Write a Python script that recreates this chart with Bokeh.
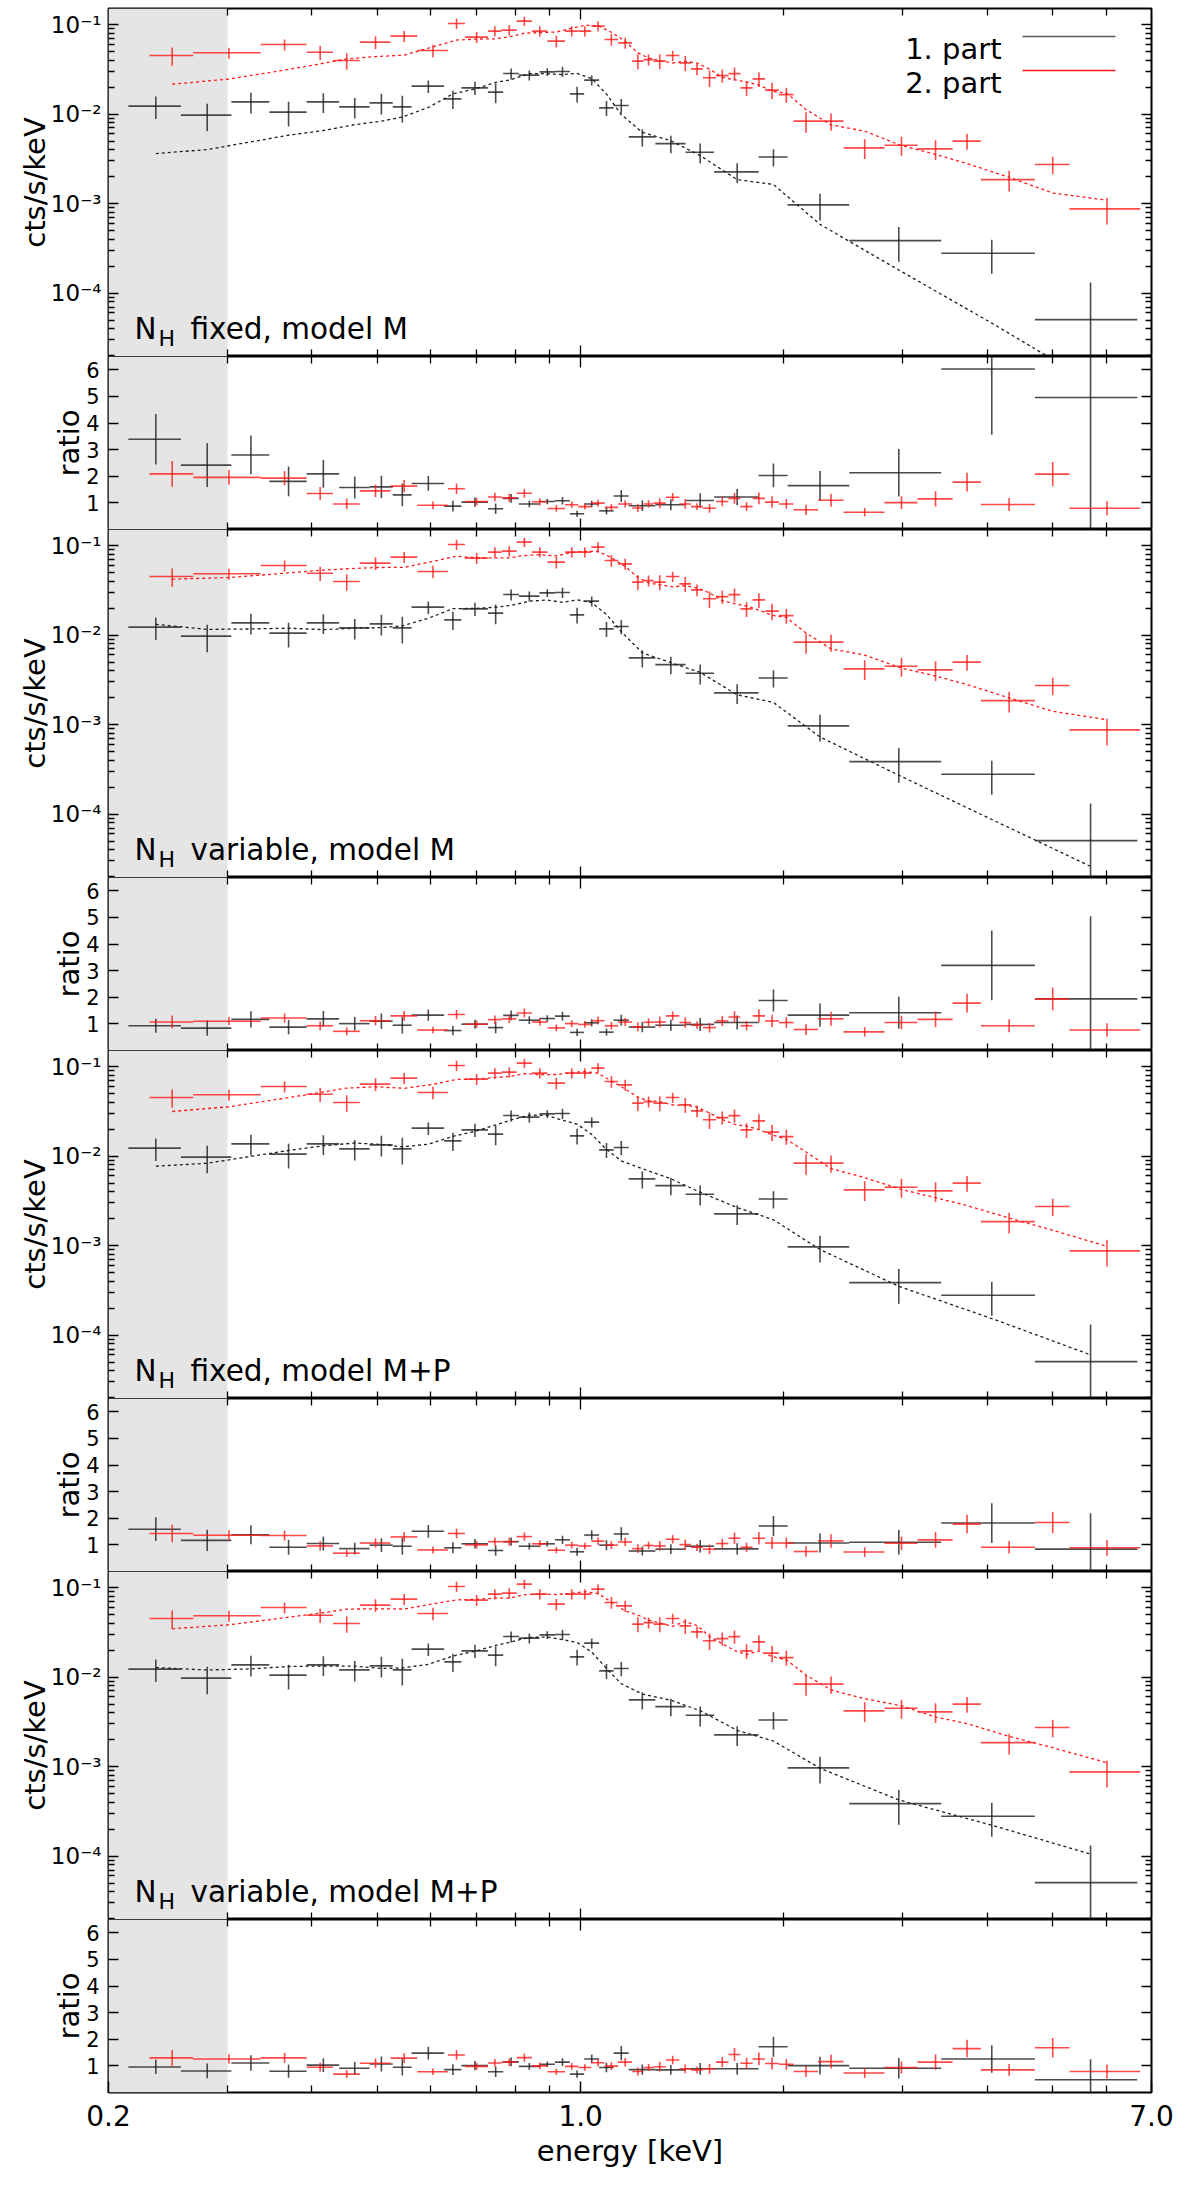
import numpy as np

from bokeh.embed import file_html
from bokeh.layouts import column
from bokeh.models import (
    BoxAnnotation,
    ColumnDataSource,
    CustomJSTickFormatter,
    FixedTicker,
    Label,
    LinearAxis,
    Range1d,
)
from bokeh.plotting import figure
from bokeh.resources import INLINE

# ---- spectra (same data in all four spectral panels) ----
# bin edges in keV, flux in cts/s/keV, relative 1-sigma error
black_edges = [0.214, 0.256, 0.304, 0.346, 0.393, 0.439, 0.487, 0.527, 0.562, 0.628,
               0.666, 0.729, 0.768, 0.810, 0.869, 0.916, 0.964, 1.012, 1.065, 1.119,
               1.178, 1.290, 1.430, 1.576, 1.834, 2.025, 2.498, 3.418, 4.704, 6.670]
black_flux = [0.01226, 0.00972, 0.01369, 0.01050, 0.01369, 0.01203, 0.01334, 0.01203, 0.02050, 0.01478,
              0.01963, 0.01757, 0.02835, 0.02721, 0.02961, 0.02985, 0.01681, 0.02392, 0.01173, 0.01245,
              0.00556, 0.00468, 0.00375, 0.00226, 0.00332, 0.000967, 0.000386, 0.000279, 0.0000506]
black_err = [0.28, 0.34, 0.26, 0.31, 0.25, 0.26, 0.26, 0.33, 0.16, 0.23,
             0.17, 0.25, 0.14, 0.13, 0.10, 0.13, 0.20, 0.13, 0.19, 0.18,
             0.22, 0.22, 0.25, 0.25, 0.22, 0.33, 0.42, 0.41, 1.6]

red_edges = [0.230, 0.267, 0.336, 0.393, 0.430, 0.471, 0.523, 0.573, 0.636, 0.674,
             0.729, 0.764, 0.804, 0.847, 0.893, 0.948, 0.992, 1.037, 1.085, 1.136,
             1.192, 1.239, 1.282, 1.337, 1.400, 1.457, 1.517, 1.586, 1.655, 1.724,
             1.797, 1.875, 1.966, 2.066, 2.246, 2.450, 2.817, 3.153, 3.553, 3.913,
             4.704, 5.293, 6.736]
red_flux = [0.0450, 0.0483, 0.0598, 0.0491, 0.0396, 0.0636, 0.0742, 0.0512, 0.1026, 0.0723,
            0.0844, 0.0866, 0.1091, 0.0844, 0.0652, 0.0844, 0.0844, 0.0960, 0.0680, 0.0624,
            0.0390, 0.0406, 0.0390, 0.0450, 0.0373, 0.0320, 0.0254, 0.0269, 0.0283, 0.0196,
            0.0247, 0.0185, 0.0165, 0.00833, 0.00833, 0.00419, 0.00449, 0.00408, 0.00498, 0.00185,
            0.00273, 0.000873]
red_err = [0.23, 0.14, 0.14, 0.18, 0.21, 0.16, 0.14, 0.16, 0.13, 0.14,
           0.13, 0.13, 0.12, 0.13, 0.15, 0.13, 0.13, 0.13, 0.15, 0.14,
           0.19, 0.14, 0.19, 0.13, 0.19, 0.15, 0.21, 0.17, 0.17, 0.19,
           0.19, 0.21, 0.19, 0.26, 0.22, 0.25, 0.24, 0.25, 0.20, 0.26,
           0.22, 0.33]

# ---- data/model ratios, one list per fit ----
ratio_black_1 = [3.39, 2.42, 2.80, 1.81, 2.09, 1.58, 1.60, 1.30, 1.73, 0.88,
                 1.03, 0.78, 1.17, 0.96, 1.05, 1.08, 0.59, 0.96, 0.70, 1.26,
                 0.89, 0.93, 1.09, 1.22, 2.03, 1.65, 2.13, 6.03, 4.96]
ratio_red_1 = [2.09, 1.96, 1.93, 1.35, 0.96, 1.45, 1.63, 0.91, 1.53, 1.05,
               1.22, 1.19, 1.36, 1.04, 0.79, 0.93, 0.86, 0.99, 0.83, 0.96,
               0.81, 0.96, 0.99, 1.21, 0.96, 0.86, 0.80, 1.05, 1.17, 0.86,
               1.17, 1.03, 0.96, 0.74, 1.10, 0.65, 1.01, 1.15, 1.78, 0.94,
               2.08, 0.80]
ratio_black_2 = [0.93, 0.84, 1.17, 0.88, 1.19, 1.01, 1.10, 0.95, 1.33, 0.75,
                 0.99, 0.86, 1.32, 1.14, 1.20, 1.29, 0.68, 1.04, 0.69, 1.14,
                 0.88, 0.95, 0.98, 1.05, 1.88, 1.33, 1.42, 3.20, 1.94]
ratio_red_2 = [1.07, 1.10, 1.22, 0.93, 0.72, 1.12, 1.30, 0.77, 1.35, 0.99,
               1.16, 1.19, 1.41, 1.07, 0.85, 1.01, 0.98, 1.12, 0.93, 1.07,
               0.89, 1.06, 1.07, 1.30, 1.05, 0.95, 0.86, 1.11, 1.26, 0.93,
               1.30, 1.11, 1.05, 0.79, 1.19, 0.70, 1.05, 1.17, 1.78, 0.93,
               1.94, 0.77]
ratio_black_3 = [1.59, 1.17, 1.38, 0.91, 1.05, 0.86, 0.99, 0.95, 1.51, 0.89,
                 1.04, 0.79, 1.12, 0.95, 1.04, 1.19, 0.74, 1.37, 0.99, 1.41,
                 0.77, 0.84, 0.95, 0.85, 1.71, 1.07, 1.10, 1.82, 0.84]
ratio_red_3 = [1.43, 1.36, 1.35, 0.96, 0.69, 1.07, 1.30, 0.81, 1.43, 1.00,
               1.12, 1.12, 1.31, 1.04, 0.80, 0.99, 0.96, 1.14, 0.99, 1.11,
               0.86, 0.98, 0.96, 1.21, 1.01, 0.91, 0.84, 1.05, 1.25, 0.91,
               1.25, 1.07, 1.07, 0.75, 1.15, 0.73, 1.06, 1.19, 1.78, 0.91,
               1.84, 0.89]
ratio_black_4 = [0.96, 0.81, 1.11, 0.80, 1.03, 0.91, 1.07, 0.95, 1.48, 0.86,
                 1.01, 0.78, 1.15, 0.98, 1.06, 1.14, 0.69, 1.26, 0.94, 1.48,
                 0.86, 0.85, 0.89, 0.89, 1.72, 1.01, 0.91, 1.26, 0.48]
ratio_red_4 = [1.30, 1.26, 1.30, 0.95, 0.69, 1.10, 1.29, 0.78, 1.41, 0.98,
               1.11, 1.14, 1.31, 1.00, 0.78, 0.98, 0.94, 1.12, 0.99, 1.14,
               0.79, 0.94, 0.97, 1.22, 0.89, 0.85, 0.89, 1.14, 1.43, 1.10,
               1.26, 1.09, 1.06, 0.79, 1.16, 0.73, 0.94, 1.14, 1.65, 0.85,
               1.68, 0.79]

fit_names = ["fixed, model M", "variable, model M", "fixed, model M+P", "variable, model M+P"]
fit_ratios = [(ratio_black_1, ratio_red_1), (ratio_black_2, ratio_red_2),
              (ratio_black_3, ratio_red_3), (ratio_black_4, ratio_red_4)]
series_names = ["1. part", "2. part"]

ignored_band = (0.2, 0.3)
energy_ticks = [0.2, 1.0, 7.0]
energy_minor = [0.3, 0.4, 0.5, 0.6, 0.7, 0.8, 0.9, 2, 3, 4, 5, 6]
flux_ticks = [1e-5, 1e-4, 1e-3, 1e-2, 1e-1]
flux_minor = [m * 10.0 ** e for e in range(-5, 0) for m in range(2, 10)]
ratio_ticks = [1, 2, 3, 4, 5, 6]

FONT = "DejaVu Sans"
INK = "black"
BLACK = "#1f1f1f"
RED = "#ff1a1a"

SUP_JS = """
const sup = {"-": "⁻", "0": "⁰", "1": "¹", "2": "²", "3": "³", "4": "⁴", "5": "⁵"};
const e = Math.round(Math.log10(tick));
return "10" + String(e).split("").map((c) => sup[c]).join("");
"""

x_range = Range1d(energy_ticks[0], energy_ticks[-1])


def bins(edges):
    e = np.array(edges)
    return e[:-1], e[1:], 0.5 * (e[:-1] + e[1:])


def style_ticks(ax, major, minor):
    ax.axis_line_color = None
    ax.major_tick_out = 0
    ax.minor_tick_out = 0
    ax.major_tick_in = major
    ax.minor_tick_in = minor
    ax.major_tick_line_width = 1.5
    ax.minor_tick_line_width = 1.3
    ax.major_tick_line_color = INK
    ax.minor_tick_line_color = INK
    ax.major_label_text_font = FONT
    ax.major_label_text_color = INK
    ax.axis_label_text_font = FONT
    ax.axis_label_text_color = INK
    ax.axis_label_text_font_style = "normal"


def tick_marks(p, side, ticks, length):
    # mirrored, label-less tick marks: all given as minor ticks so no labels are drawn
    ax = LinearAxis(ticker=FixedTicker(ticks=[], minor_ticks=ticks))
    style_ticks(ax, 0, length)
    ax.major_label_standoff = 0
    p.add_layout(ax, side)


def text(p, x, y, s, size, **kw):
    p.add_layout(Label(x=x, y=y, x_units="screen", y_units="screen", text=s,
                       text_font=FONT, text_font_size=size, text_color=INK,
                       text_baseline="alphabetic", **kw))


def crosses(p, edges, y, rel, color):
    lo, hi, mid = bins(edges)
    y = np.array(y)
    sig = y * np.array(rel)
    src = ColumnDataSource(dict(lo=lo, hi=hi, mid=mid, y=y,
                                ylo=np.maximum(y - sig, 1e-9), yhi=y + sig))
    p.segment("lo", "y", "hi", "y", source=src, line_color=color, line_width=1.6, line_alpha=0.8)
    p.segment("mid", "ylo", "mid", "yhi", source=src, line_color=color, line_width=1.6, line_alpha=0.8)


def make_panel(spectral, first, last):
    p = figure(
        frame_width=1043, frame_height=348 if spectral else 173,
        x_range=x_range, x_axis_type="log",
        y_range=Range1d(1.96e-5, 0.151) if spectral else Range1d(0, 6.5),
        y_axis_type="log" if spectral else "linear",
        x_axis_location=None, y_axis_location=None,
        min_border_left=108, min_border_right=25,
        min_border_top=8 if first else 0, min_border_bottom=0,
        output_backend="svg", toolbar_location=None,
    )
    p.grid.visible = False
    p.outline_line_color = INK
    p.outline_line_width = 2
    p.add_layout(BoxAnnotation(left=ignored_band[0], right=ignored_band[1],
                               fill_color="#e5e5e5", fill_alpha=1.0,
                               line_color=None, level="underlay"))

    # energy axis: labelled only under the last panel
    if last:
        ax = LinearAxis(ticker=FixedTicker(ticks=energy_ticks, minor_ticks=energy_minor),
                        formatter=CustomJSTickFormatter(code="return tick.toFixed(1)"))
        style_ticks(ax, 11, 7)
        ax.major_label_text_font_size = "28px"
        ax.major_label_standoff = 12
        ax.axis_label = "energy [keV]"
        ax.axis_label_text_font_size = "29px"
        ax.axis_label_standoff = 5
        p.add_layout(ax, "below")
    else:
        tick_marks(p, "below", energy_minor, 7)
        tick_marks(p, "below", [1.0], 11)
    tick_marks(p, "above", energy_minor, 7)
    tick_marks(p, "above", [1.0], 11)

    if spectral:
        ax = LinearAxis(ticker=FixedTicker(ticks=flux_ticks, minor_ticks=flux_minor),
                        formatter=CustomJSTickFormatter(code=SUP_JS))
        style_ticks(ax, 10, 6)
        ax.axis_label = "cts/s/keV"
        ax.major_label_text_font_size = "23px"
        ax.major_label_standoff = 7
        ax.axis_label_standoff = -4
        tick_marks(p, "right", flux_minor, 6)
        tick_marks(p, "right", flux_ticks, 10)
    else:
        ax = LinearAxis(ticker=FixedTicker(ticks=ratio_ticks, minor_ticks=[]))
        style_ticks(ax, 10, 0)
        ax.axis_label = "ratio"
        ax.major_label_text_font_size = "21px"
        ax.major_label_standoff = 9
        ax.axis_label_standoff = -3
        tick_marks(p, "right", ratio_ticks, 10)
    ax.axis_label_text_font_size = "29px"
    p.add_layout(ax, "left")
    return p


panels = []
for i, (name, (rb, rr)) in enumerate(zip(fit_names, fit_ratios)):
    spec = make_panel(True, i == 0, False)
    ratio = make_panel(False, False, i == len(fit_names) - 1)

    for edges, flux, err, rat, color in ((black_edges, black_flux, black_err, rb, BLACK),
                                         (red_edges, red_flux, red_err, rr, RED)):
        mid = bins(edges)[2]
        model = np.array(flux) / np.array(rat)
        spec.line(mid, model, line_color=color, line_width=1.3, line_dash="3 3")
        crosses(spec, edges, flux, err, color)
        crosses(ratio, edges, rat, err, color)

    text(spec, 26, 28, "N", "29.5px")
    text(spec, 50, 18, "H", "22px")
    text(spec, 82, 28, name, "29.5px")

    if i == 0:
        for k, (label, color) in enumerate(zip(series_names, ["#5a5a5a", RED])):
            yb = 308 - 34 * k
            text(spec, 893, yb, label, "29px", text_align="right")
            spec.add_layout(BoxAnnotation(left=914, right=1007, bottom=yb + 11.3, top=yb + 12.7,
                                          left_units="screen", right_units="screen",
                                          bottom_units="screen", top_units="screen",
                                          fill_color=color, fill_alpha=1.0, line_color=None))
    panels += [spec, ratio]

p = column(*panels)
open("out.html", "w").write(file_html(p, INLINE))
